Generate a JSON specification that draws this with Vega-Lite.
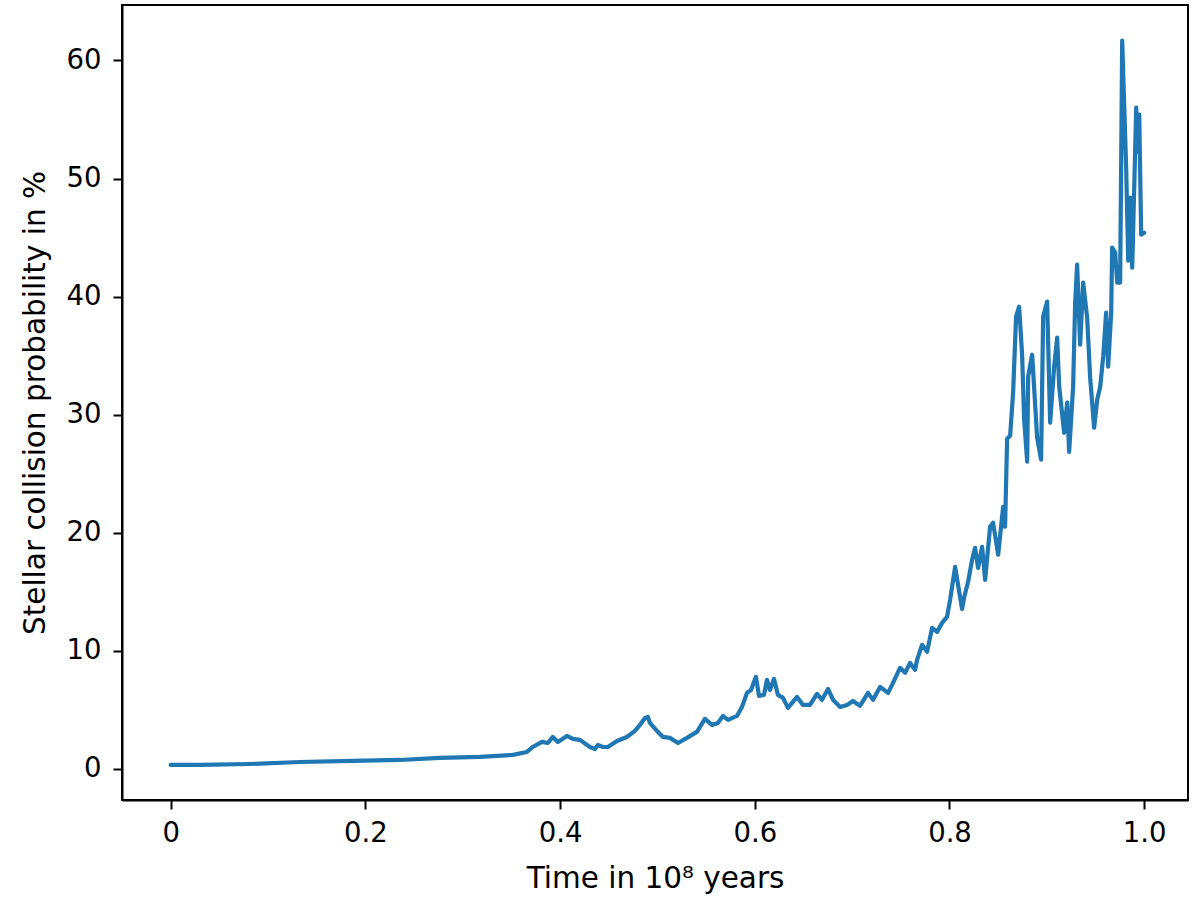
{
  "$schema": "https://vega.github.io/schema/vega-lite/v6.json",
  "autosize": "none",
  "width": 1066,
  "height": 795,
  "padding": {"left": 122, "top": 5, "right": 12, "bottom": 103},
  "background": "white",
  "config": {
    "font": "DejaVu Sans",
    "view": {"stroke": "black", "strokeWidth": 2},
    "axis": {
      "grid": false,
      "domainColor": "black",
      "domainWidth": 2,
      "tickColor": "black",
      "tickWidth": 2,
      "tickSize": 9,
      "labelFontSize": 27.5,
      "labelColor": "black",
      "titleFontSize": 29.5,
      "titleFontWeight": "normal",
      "titleColor": "black"
    }
  },
  "data": {
    "values": [
      {"t": 0.0, "p": 0.34}, {"t": 0.0298, "p": 0.34}, {"t": 0.0812, "p": 0.42}, {"t": 0.1326, "p": 0.59},
      {"t": 0.1871, "p": 0.68}, {"t": 0.2354, "p": 0.76}, {"t": 0.2765, "p": 0.93}, {"t": 0.3176, "p": 1.02},
      {"t": 0.3515, "p": 1.19}, {"t": 0.3659, "p": 1.44}, {"t": 0.372, "p": 1.86}, {"t": 0.3813, "p": 2.29},
      {"t": 0.3875, "p": 2.2}, {"t": 0.3926, "p": 2.71}, {"t": 0.3977, "p": 2.29}, {"t": 0.407, "p": 2.8},
      {"t": 0.4132, "p": 2.54}, {"t": 0.4204, "p": 2.46}, {"t": 0.4306, "p": 1.86}, {"t": 0.4358, "p": 1.69},
      {"t": 0.4388, "p": 2.03}, {"t": 0.444, "p": 1.86}, {"t": 0.4491, "p": 1.86}, {"t": 0.4584, "p": 2.37},
      {"t": 0.4686, "p": 2.71}, {"t": 0.4769, "p": 3.22}, {"t": 0.482, "p": 3.73}, {"t": 0.4872, "p": 4.32},
      {"t": 0.4902, "p": 4.41}, {"t": 0.4923, "p": 3.9}, {"t": 0.4995, "p": 3.22}, {"t": 0.5057, "p": 2.71},
      {"t": 0.5128, "p": 2.63}, {"t": 0.5211, "p": 2.2}, {"t": 0.5303, "p": 2.63}, {"t": 0.5406, "p": 3.14},
      {"t": 0.5488, "p": 4.24}, {"t": 0.556, "p": 3.73}, {"t": 0.5622, "p": 3.9}, {"t": 0.5673, "p": 4.49},
      {"t": 0.5725, "p": 4.15}, {"t": 0.5817, "p": 4.49}, {"t": 0.5868, "p": 5.25}, {"t": 0.592, "p": 6.44},
      {"t": 0.5961, "p": 6.69}, {"t": 0.6012, "p": 7.8}, {"t": 0.6043, "p": 6.19}, {"t": 0.6095, "p": 6.27},
      {"t": 0.6125, "p": 7.54}, {"t": 0.6156, "p": 6.69}, {"t": 0.6197, "p": 7.63}, {"t": 0.6238, "p": 6.27},
      {"t": 0.629, "p": 6.02}, {"t": 0.6341, "p": 5.17}, {"t": 0.6434, "p": 6.1}, {"t": 0.6495, "p": 5.42},
      {"t": 0.6567, "p": 5.42}, {"t": 0.6639, "p": 6.36}, {"t": 0.6691, "p": 5.85}, {"t": 0.6752, "p": 6.78},
      {"t": 0.6804, "p": 5.85}, {"t": 0.6876, "p": 5.25}, {"t": 0.6948, "p": 5.42}, {"t": 0.7009, "p": 5.76},
      {"t": 0.7081, "p": 5.34}, {"t": 0.7163, "p": 6.44}, {"t": 0.7215, "p": 5.85}, {"t": 0.7287, "p": 6.95},
      {"t": 0.7369, "p": 6.44}, {"t": 0.742, "p": 7.29}, {"t": 0.7492, "p": 8.56}, {"t": 0.7544, "p": 8.14},
      {"t": 0.7595, "p": 8.98}, {"t": 0.7646, "p": 8.39}, {"t": 0.7667, "p": 9.24}, {"t": 0.7718, "p": 10.51},
      {"t": 0.777, "p": 9.92}, {"t": 0.7821, "p": 11.95}, {"t": 0.7873, "p": 11.61}, {"t": 0.7924, "p": 12.37},
      {"t": 0.7975, "p": 12.88}, {"t": 0.8006, "p": 14.32}, {"t": 0.8058, "p": 17.12}, {"t": 0.8088, "p": 15.59},
      {"t": 0.8129, "p": 13.56}, {"t": 0.815, "p": 14.49}, {"t": 0.8191, "p": 15.85}, {"t": 0.8232, "p": 17.71},
      {"t": 0.8263, "p": 18.73}, {"t": 0.8294, "p": 17.03}, {"t": 0.8335, "p": 18.81}, {"t": 0.8366, "p": 16.02},
      {"t": 0.8417, "p": 20.51}, {"t": 0.8448, "p": 20.85}, {"t": 0.85, "p": 18.14}, {"t": 0.8551, "p": 22.2},
      {"t": 0.8571, "p": 20.51}, {"t": 0.8592, "p": 27.97}, {"t": 0.8623, "p": 28.22}, {"t": 0.8654, "p": 31.95},
      {"t": 0.8684, "p": 38.31}, {"t": 0.8715, "p": 39.15}, {"t": 0.8746, "p": 35.08}, {"t": 0.8767, "p": 29.58},
      {"t": 0.8798, "p": 26.02}, {"t": 0.8808, "p": 33.22}, {"t": 0.8849, "p": 35.08}, {"t": 0.888, "p": 30.85},
      {"t": 0.89, "p": 28.05}, {"t": 0.8941, "p": 26.19}, {"t": 0.8962, "p": 38.31}, {"t": 0.9003, "p": 39.58},
      {"t": 0.9034, "p": 29.32}, {"t": 0.9075, "p": 34.07}, {"t": 0.9106, "p": 36.53}, {"t": 0.9127, "p": 32.37},
      {"t": 0.9178, "p": 28.47}, {"t": 0.9209, "p": 31.02}, {"t": 0.9229, "p": 26.86}, {"t": 0.927, "p": 32.37},
      {"t": 0.9291, "p": 39.49}, {"t": 0.9311, "p": 42.71}, {"t": 0.9342, "p": 35.93}, {"t": 0.9373, "p": 41.19},
      {"t": 0.9414, "p": 38.22}, {"t": 0.9445, "p": 33.14}, {"t": 0.9486, "p": 28.9}, {"t": 0.9517, "p": 31.27},
      {"t": 0.9548, "p": 32.37}, {"t": 0.9579, "p": 34.92}, {"t": 0.9609, "p": 38.64}, {"t": 0.963, "p": 34.07},
      {"t": 0.9661, "p": 38.64}, {"t": 0.9671, "p": 44.15}, {"t": 0.9702, "p": 43.73}, {"t": 0.9723, "p": 41.19},
      {"t": 0.9753, "p": 41.19}, {"t": 0.9774, "p": 61.69}, {"t": 0.9815, "p": 50.85}, {"t": 0.9836, "p": 43.05},
      {"t": 0.9856, "p": 48.39}, {"t": 0.9877, "p": 42.46}, {"t": 0.9918, "p": 56.02}, {"t": 0.9928, "p": 52.29},
      {"t": 0.9949, "p": 55.42}, {"t": 0.9969, "p": 45.25}, {"t": 1.0, "p": 45.42}
    ]
  },
  "mark": {"type": "line", "color": "#1f77b4", "strokeWidth": 4.2, "strokeJoin": "round", "strokeCap": "round"},
  "encoding": {
    "x": {
      "field": "t",
      "type": "quantitative",
      "scale": {"domain": [-0.05, 1.045], "nice": false, "zero": false},
      "axis": {
        "values": [0, 0.2, 0.4, 0.6, 0.8, 1.0],
        "labelExpr": "datum.value == 0 ? '0' : format(datum.value, '.1f')",
        "labelPadding": 10,
        "title": "Time in 10⁸ years",
        "titlePadding": 18
      }
    },
    "y": {
      "field": "p",
      "type": "quantitative",
      "scale": {"domain": [-2.63, 64.7], "nice": false, "zero": false},
      "axis": {
        "values": [0, 10, 20, 30, 40, 50, 60],
        "labelPadding": 12,
        "title": "Stellar collision probability in %",
        "titlePadding": 16
      }
    }
  }
}
